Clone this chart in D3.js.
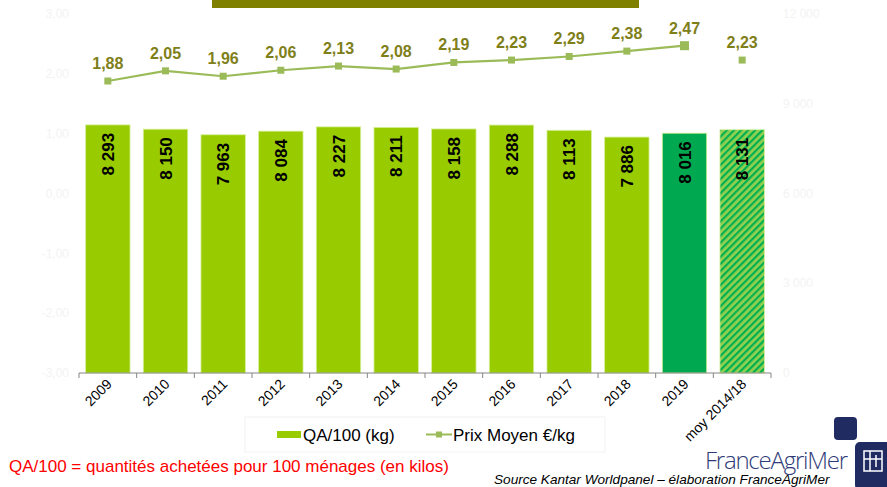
<!DOCTYPE html>
<html>
<head>
<meta charset="utf-8">
<script src="https://cdn.jsdelivr.net/npm/d3@7"></script>
<style>
  body { margin: 0; background: #fff; }
  svg { display: block; font-family: "Liberation Sans", Arial, sans-serif; }
</style>
</head>
<body>
<svg id="chart" width="887" height="487"></svg>
<script>
// data
var categories = ["2009", "2010", "2011", "2012", "2013", "2014", "2015",
                  "2016", "2017", "2018", "2019", "moy 2014/18"];
var qa = [8293, 8150, 7963, 8084, 8227, 8211, 8158, 8288, 8113, 7886, 8016, 8131];
var prix = [1.88, 2.05, 1.96, 2.06, 2.13, 2.08, 2.19, 2.23, 2.29, 2.38, 2.47, 2.23];
var leftTicks = [-3, -2, -1, 0, 1, 2, 3];
var rightTicks = [0, 3000, 6000, 9000, 12000];

var svg = d3.select("#chart");
var plotTop = 14, plotBottom = 373;

var x = d3.scaleBand().domain(categories).range([79, 771]).paddingInner(0.23).paddingOuter(0.115);
var yL = d3.scaleLinear().domain([-3, 3]).range([plotBottom, plotTop]);
var yR = d3.scaleLinear().domain([0, 12000]).range([plotBottom, plotTop]);

var fmtL = function (v) { return d3.format(".2f")(v).replace(".", ",").replace("−", "-"); };
var fmtR = function (v) { return d3.format(",")(v).replace(/,/g, " "); };
var fmtP = function (v) { return d3.format(".2f")(v).replace(".", ","); };

// hatch pattern for the average bar
var defs = svg.append("defs");
var pat = defs.append("pattern")
  .attr("id", "hatch")
  .attr("patternUnits", "userSpaceOnUse")
  .attr("width", 5).attr("height", 5)
  .attr("patternTransform", "rotate(45)");
pat.append("rect").attr("width", 5).attr("height", 5).attr("fill", "#92d050");
pat.append("rect").attr("width", 2.2).attr("height", 5).attr("fill", "#00b050");

// title band (cut at the top)
svg.append("rect")
  .attr("x", 212).attr("y", 0).attr("width", 427).attr("height", 8)
  .attr("fill", "#808000");

// faint axis labels (almost white in the picture)
svg.append("g").selectAll("text").data(leftTicks).join("text")
  .attr("x", 69).attr("y", function (d) { return yL(d); })
  .attr("dy", "0.35em")
  .attr("text-anchor", "end")
  .attr("font-size", 12)
  .attr("fill", "#f3f3f3")
  .text(fmtL);

svg.append("g").selectAll("text").data(rightTicks).join("text")
  .attr("x", 783).attr("y", function (d) { return yR(d); })
  .attr("dy", "0.35em")
  .attr("font-size", 12)
  .attr("fill", "#f3f3f3")
  .text(fmtR);

// bars
var barColor = function (d, i) {
  if (i === 10) return "#00a94f";
  if (i === 11) return "url(#hatch)";
  return "#99cc00";
};

svg.append("g").selectAll("rect").data(qa).join("rect")
  .attr("x", function (d, i) { return x(categories[i]); })
  .attr("y", function (d) { return yR(d); })
  .attr("width", x.bandwidth())
  .attr("height", function (d) { return plotBottom - yR(d); })
  .attr("fill", barColor)
  .attr("stroke", "#d6ef9a")
  .attr("stroke-width", 0.8);

svg.append("g").selectAll("text").data(qa).join("text")
  .attr("transform", function (d, i) {
    return "translate(" + (x(categories[i]) + x.bandwidth() / 2) + "," + (yR(d) + 8) + ") rotate(-90)";
  })
  .attr("dy", "0.36em")
  .attr("text-anchor", "end")
  .attr("font-size", 17)
  .attr("font-weight", "bold")
  .attr("fill", "#000")
  .text(fmtR);

// x axis
var xAxis = svg.append("g")
  .attr("transform", "translate(0," + plotBottom + ")");
xAxis.append("line")
  .attr("x1", 79).attr("x2", 771)
  .attr("stroke", "#868686");
var bounds = categories.map(function (c) { return x(c) - x.step() * x.paddingInner() / 2; });
bounds.push(771);
xAxis.selectAll("line.tk").data(bounds).join("line")
  .attr("class", "tk")
  .attr("x1", function (d) { return d; }).attr("x2", function (d) { return d; })
  .attr("y1", 0).attr("y2", 5)
  .attr("stroke", "#868686");
xAxis.selectAll("text").data(categories).join("text")
  .attr("transform", function (d) {
    return "translate(" + (x(d) + x.bandwidth() / 2 + 5) + ",12) rotate(-45)";
  })
  .attr("text-anchor", "end")
  .attr("font-size", 14)
  .attr("fill", "#000")
  .text(function (d) { return d; });

// price line (first 11 points joined, the average alone)
var pts = prix.map(function (v, i) {
  return [x(categories[i]) + x.bandwidth() / 2, yL(v)];
});
svg.append("path")
  .attr("d", d3.line()(pts.slice(0, 11)))
  .attr("fill", "none")
  .attr("stroke", "#9bbb59")
  .attr("stroke-width", 2.2);

svg.append("g").selectAll("rect").data(pts).join("rect")
  .attr("x", function (d, i) { return d[0] - (i === 10 ? 4.5 : 3.5); })
  .attr("y", function (d, i) { return d[1] - (i === 10 ? 4.5 : 3.5); })
  .attr("width", function (d, i) { return i === 10 ? 9 : 7; })
  .attr("height", function (d, i) { return i === 10 ? 9 : 7; })
  .attr("fill", "#9bbb59");

svg.append("g").selectAll("text").data(prix).join("text")
  .attr("x", function (d, i) { return pts[i][0]; })
  .attr("y", function (d, i) { return pts[i][1] - 12; })
  .attr("text-anchor", "middle")
  .attr("font-size", 16)
  .attr("font-weight", "bold")
  .attr("fill", "#7f7f1a")
  .text(fmtP);

// legend
var lg = svg.append("g");
lg.append("rect")
  .attr("x", 245).attr("y", 417).attr("width", 360).attr("height", 35)
  .attr("fill", "none").attr("stroke", "#f2f2f2");
lg.append("rect")
  .attr("x", 277).attr("y", 431).attr("width", 24).attr("height", 7)
  .attr("fill", "#99cc00");
lg.append("text")
  .attr("x", 303).attr("y", 441)
  .attr("font-size", 17).attr("fill", "#000")
  .text("QA/100 (kg)");
lg.append("line")
  .attr("x1", 426).attr("x2", 452).attr("y1", 434.5).attr("y2", 434.5)
  .attr("stroke", "#9bbb59").attr("stroke-width", 2);
lg.append("rect")
  .attr("x", 436).attr("y", 431.5).attr("width", 6).attr("height", 6)
  .attr("fill", "#9bbb59");
lg.append("text")
  .attr("x", 453).attr("y", 441)
  .attr("font-size", 17).attr("fill", "#000")
  .text("Prix Moyen  €/kg");

// notes
svg.append("text")
  .attr("x", 9).attr("y", 472)
  .attr("font-size", 17).attr("fill", "#ff0000")
  .text("QA/100 = quantités achetées pour 100 ménages (en kilos)");

svg.append("text")
  .attr("x", 494).attr("y", 484)
  .attr("font-size", 13.6).attr("font-style", "italic").attr("fill", "#000")
  .text("Source Kantar Worldpanel – élaboration FranceAgriMer");

// logo
svg.append("text")
  .attr("x", 705).attr("y", 469)
  .attr("font-family", "'Open Sans', sans-serif")
  .attr("font-weight", 300)
  .attr("font-size", 24)
  .attr("fill", "#2f3b78")
  .attr("textLength", 143)
  .text("FranceAgriMer");
svg.append("rect")
  .attr("x", 834).attr("y", 417).attr("width", 23).attr("height", 23)
  .attr("rx", 4).attr("fill", "#1f2b61");
svg.append("rect")
  .attr("x", 855).attr("y", 442).attr("width", 40).attr("height", 48)
  .attr("rx", 5).attr("fill", "#1f2b61");
var ic = svg.append("g").attr("fill", "none").attr("stroke", "#fff").attr("stroke-width", 1.5);
ic.append("rect").attr("x", 864).attr("y", 451).attr("width", 18).attr("height", 20);
ic.append("line").attr("x1", 870).attr("x2", 870).attr("y1", 451).attr("y2", 471);
ic.append("line").attr("x1", 864).attr("x2", 882).attr("y1", 459).attr("y2", 459);
ic.append("line").attr("x1", 876).attr("x2", 876).attr("y1", 455).attr("y2", 467);
</script>
</body>
</html>
